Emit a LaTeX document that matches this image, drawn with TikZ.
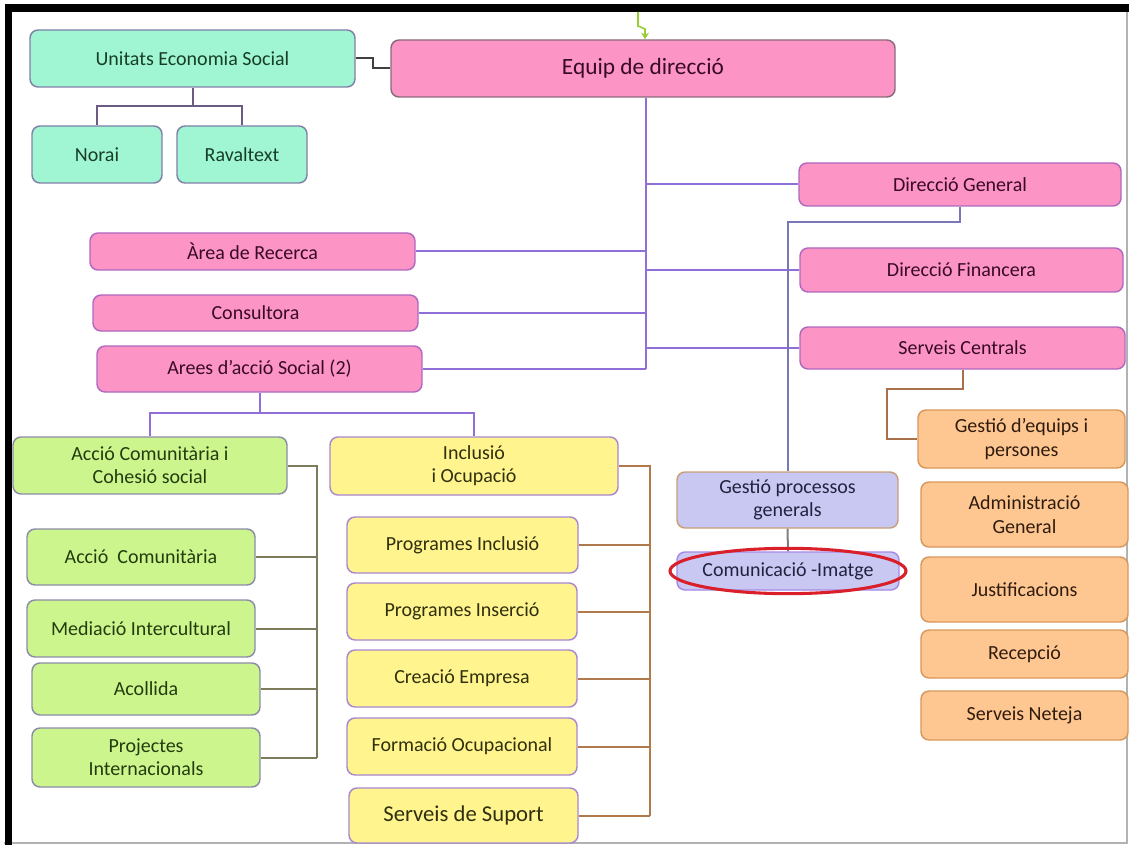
\documentclass[tikz,border=0pt]{standalone}
\usepackage{fontspec}
\setmainfont{Carlito}
\usetikzlibrary{arrows.meta}
\definecolor{mintfill}{HTML}{A0F5D2}
\definecolor{mintdraw}{HTML}{8080A8}
\definecolor{minttext}{HTML}{173F26}
\definecolor{pinkfill}{HTML}{FD94C6}
\definecolor{pinkdraw}{HTML}{B068C0}
\definecolor{pinktext}{HTML}{380A28}
\definecolor{equipdraw}{HTML}{8A6A7A}
\definecolor{greenfill}{HTML}{CDF58E}
\definecolor{greendraw}{HTML}{8C8CA8}
\definecolor{greentext}{HTML}{233C0E}
\definecolor{yellowfill}{HTML}{FFF48E}
\definecolor{yellowdraw}{HTML}{A888D0}
\definecolor{yellowtext}{HTML}{30300E}
\definecolor{orangefill}{HTML}{FEC792}
\definecolor{orangedraw}{HTML}{D8985C}
\definecolor{orangetext}{HTML}{301C0E}
\definecolor{lavfill}{HTML}{C8C8F2}
\definecolor{gpdraw}{HTML}{C8A078}
\definecolor{comdraw}{HTML}{A888E8}
\definecolor{lavtext}{HTML}{22223F}
\definecolor{spinecol}{HTML}{9070D8}
\definecolor{uescol}{HTML}{6C5C84}
\definecolor{dgcol}{HTML}{7878B8}
\definecolor{sccol}{HTML}{A87048}
\definecolor{gbrcol}{HTML}{7C7C5A}
\definecolor{ybrcol}{HTML}{B07A4C}
\definecolor{arrowgreen}{HTML}{9ACD32}
\definecolor{ellred}{HTML}{D9202A}
\tikzset{
  bx/.style n args={2}{minimum width=#1*0.75pt, minimum height=#2*0.75pt},
  basebox/.style={rounded corners=6pt, inner sep=1pt, align=center, line width=1.1pt,
    font=\fontsize{15}{17.5}\selectfont},
  mintbox/.style={basebox, fill=mintfill, draw=mintdraw, text=minttext},
  pinkbox/.style={basebox, fill=pinkfill, draw=pinkdraw, text=pinktext},
  greenbox/.style={basebox, fill=greenfill, draw=greendraw, text=greentext},
  yellowbox/.style={basebox, fill=yellowfill, draw=yellowdraw, text=yellowtext},
  orangebox/.style={basebox, fill=orangefill, draw=orangedraw, text=orangetext},
  lavbox/.style={basebox, fill=lavfill, text=lavtext},
  conn/.style={line width=1.5pt},
}
\begin{document}
\begin{tikzpicture}[x=0.75pt,y=-0.75pt]
\useasboundingbox (0,0) rectangle (1129,845);
\fill[white] (0,0) rectangle (1129,845);
% frame
\draw[gray!60, line width=0.8pt] (1127,4) -- (1127,843) -- (4,843);
\draw[black, line width=5.4pt] (8.5,845) -- (8.5,8) -- (1129,8);

% top row
\node[mintbox, bx={325}{57}] (ues) at (192.5,58.5) {Unitats Economia Social};
\node[mintbox, bx={130}{57}] (norai) at (97,154.5) {Norai};
\node[mintbox, bx={130}{57}] (raval) at (242,154.5) {Ravaltext};
\node[pinkbox, draw=equipdraw, bx={504}{57}, font=\fontsize{17.5}{20}\selectfont] (equip) at (643,68.5) {Equip de direcció};

% pink right
\node[pinkbox, bx={322}{43}] (dg) at (960,184.5) {Direcció General};
\node[pinkbox, bx={323}{44}] (df) at (961.5,270) {Direcció Financera};
\node[pinkbox, bx={325}{42}] (sc) at (962.5,348) {Serveis Centrals};

% pink left
\node[pinkbox, bx={325}{37}] (ar) at (252.5,251.5) {Àrea de Recerca};
\node[pinkbox, bx={325}{36}] (cons) at (255.5,313) {Consultora};
\node[pinkbox, bx={325}{46}] (arees) at (259.5,369) {Arees d’acció Social (2)};

% green
\node[greenbox, bx={274}{57}] (acc) at (150,465.5) {Acció Comunitària i\\Cohesió social};
\node[greenbox, bx={228}{56}] (ac1) at (141,557) {Acció~ Comunitària};
\node[greenbox, bx={228}{57}] (med) at (141,628.5) {Mediació Intercultural};
\node[greenbox, bx={228}{52}] (aco) at (146,689) {Acollida};
\node[greenbox, bx={228}{59}] (proj) at (146,757.5) {Projectes\\Internacionals};

% yellow
\node[yellowbox, bx={288}{58}] (inc) at (474,466) {Inclusió\\i Ocupació};
\node[yellowbox, bx={231}{56}] (pi) at (462.5,545) {Programes Inclusió};
\node[yellowbox, bx={230}{57}] (pins) at (462,611.5) {Programes Inserció};
\node[yellowbox, bx={230}{57}] (ce) at (462,678.5) {Creació Empresa};
\node[yellowbox, bx={230}{57}] (fo) at (462,746.5) {Formació Ocupacional};
\node[yellowbox, bx={229}{55}, font=\fontsize{17}{19}\selectfont] (ss) at (463.5,815.5) {Serveis de Suport};

% lavender
\node[lavbox, draw=gpdraw, bx={221}{56}] (gp) at (787.5,500) {Gestió processos\\generals};
\node[lavbox, draw=comdraw, bx={222}{38}] (com) at (788,571) {Comunicació -Imatge};

% orange
\node[orangebox, bx={207}{58}] (ge) at (1021.5,439) {Gestió d’equips i\\persones};
\node[orangebox, bx={207}{65}] (ag) at (1024.5,514.5) {Administració\\General};
\node[orangebox, bx={207}{65}] (jus) at (1024.5,589.5) {Justificacions};
\node[orangebox, bx={207}{48}] (rec) at (1024.5,654) {Recepció};
\node[orangebox, bx={207}{49}] (sn) at (1024.5,715.5) {Serveis Neteja};

% connectors
\coordinate (arrtop) at (638,12);
\draw[arrowgreen, line width=1.2pt, -{Stealth[length=5pt,width=6pt]}] (arrtop) -- (638,26) -- (645,29) -- (equip.north -| 645,0);

\draw[conn, black!75] (ues.east) -- (373,58.5) -- (373,68.5) -- (equip.west);
\draw[conn, uescol] (ues.south) -- (192.5,106) -| (norai.north);
\draw[conn, uescol] (192.5,106) -| (raval.north);

\coordinate (sp) at (646,369);
\draw[conn, spinecol] (equip.south -| sp) -- (sp);
\draw[conn, spinecol] (sp |- dg.west) -- (dg.west);
\draw[conn, spinecol] (sp |- df.west) -- (df.west);
\draw[conn, spinecol] (sp |- sc.west) -- (sc.west);
\draw[conn, spinecol] (ar.east) -- (sp |- ar.east);
\draw[conn, spinecol] (cons.east) -- (sp |- cons.east);
\draw[conn, spinecol] (arees.east) -- (sp |- arees.east);

\draw[conn, dgcol] (dg.south) -- (960,222) -| (gp.north);
\draw[conn, gray] (gp.south) -- (com.north);
\draw[conn, sccol] (sc.south) -- (962.5,389) -| (887,439) -- (ge.west);

\draw[conn, spinecol] (arees.south) -- (259.5,413) -| (acc.north);
\draw[conn, spinecol] (259.5,413) -| (inc.north);

\coordinate (gbr) at (317,758);
\draw[conn, gbrcol] (acc.east) -- (gbr |- acc.east) -- (gbr);
\foreach \n in {ac1,med,aco,proj} \draw[conn, gbrcol] (\n.east) -- (gbr |- \n.east);

\coordinate (ybr) at (650,815.5);
\draw[conn, ybrcol] (inc.east) -- (ybr |- inc.east) -- (ybr);
\foreach \n in {pi,pins,ce,fo,ss} \draw[conn, ybrcol] (\n.east) -- (ybr |- \n.east);

% highlight
\draw[ellred, line width=2.3pt] (com.center) ellipse [x radius=88.5pt, y radius=17pt];
\end{tikzpicture}
\end{document}
